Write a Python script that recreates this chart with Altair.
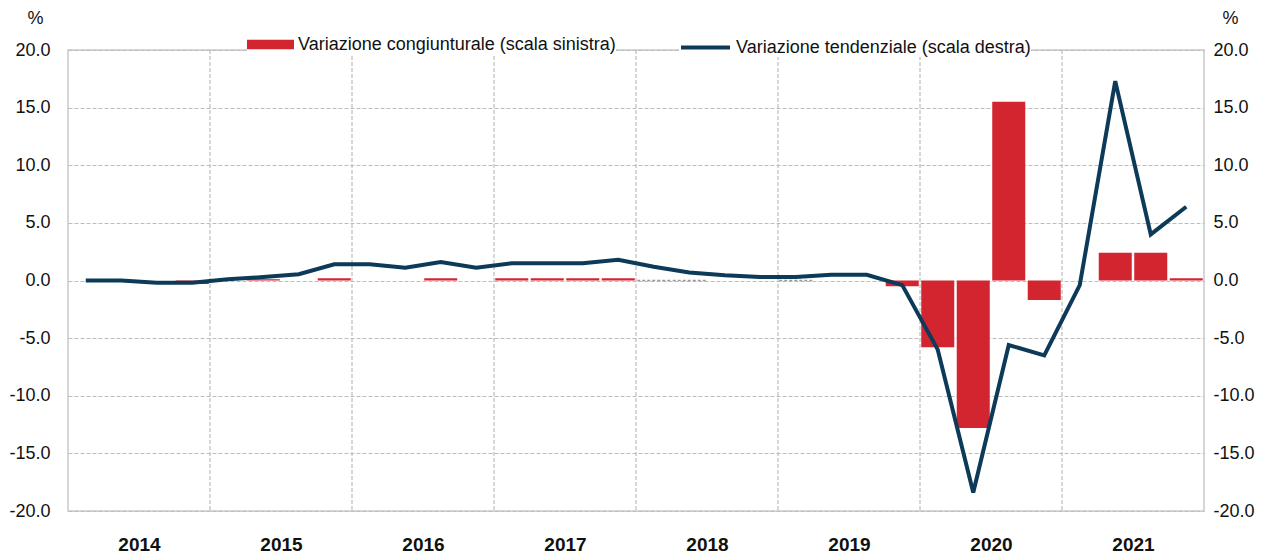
import altair as alt
import pandas as pd

# ---- data ----
years = [2014, 2015, 2016, 2017, 2018, 2019, 2020, 2021]
bar_label = "Variazione congiunturale (scala sinistra)"
line_label = "Variazione tendenziale (scala destra)"

# quarterly change (left scale); None = no visible bar
bar_values = [
    None, None, None, -0.3,
    None, 0.1, None, 0.2,
    None, None, 0.2, None,
    0.2, 0.2, 0.2, 0.2,
    0.0, 0.0, None, None,
    0.0, None, None, -0.5,
    -5.8, -12.8, 15.5, -1.7,
    None, 2.4, 2.4, 0.2,
]
# year-on-year change (right scale)
line_values = [
    0.0, 0.0, -0.2, -0.2,
    0.1, 0.3, 0.55, 1.4,
    1.4, 1.1, 1.6, 1.1,
    1.5, 1.5, 1.5, 1.8,
    1.2, 0.7, 0.45, 0.3,
    0.3, 0.5, 0.5, -0.4,
    -6.0, -18.4, -5.6, -6.5,
    -0.4, 17.3, 4.0, 6.4,
]
y_ticks = [-20, -15, -10, -5, 0, 5, 10, 15, 20]

RED = "#d32530"
NAVY = "#0c3a58"
GRID = "#bdbdbd"
FONT = "Liberation Sans Narrow, Liberation Sans, Arial, sans-serif"
FS = 18

W, H = 1136, 461

n = len(line_values)
df = pd.DataFrame({
    "q": list(range(n)),
    "v": bar_values,
    "t": line_values,
    "bar_name": [bar_label] * n,
    "line_name": [line_label] * n,
})
bounds = pd.DataFrame({"b": [4 * k for k in range(1, len(years))]})
year_pos = [4 * k + 2 for k in range(len(years))]

xscale = alt.Scale(domain=[0, 4 * len(years)], nice=False, zero=False)
yscale = alt.Scale(domain=[-20, 20], nice=False, zero=False)

label_expr = "replace(format(datum.value, '.1f'), '\u2212', '-')"

left_axis = alt.Axis(
    values=y_ticks, labelExpr=label_expr, grid=True, gridColor=GRID,
    gridDash=[4, 2], gridWidth=1.2, ticks=False, domain=False,
    labelFont=FONT, labelFontSize=FS, labelColor="#111", labelPadding=18,
    title="%", titleAngle=0, titleFont=FONT, titleFontSize=FS,
    titleFontWeight="normal", titleColor="#111", titleX=-33, titleY=-32,
    titleAlign="center", titleBaseline="middle",
)
right_axis = alt.Axis(
    orient="right", values=y_ticks, labelExpr=label_expr, grid=False,
    ticks=False, domain=False, labelFont=FONT, labelFontSize=FS,
    labelColor="#111", labelPadding=9,
    title="%", titleAngle=0, titleFont=FONT, titleFontSize=FS,
    titleFontWeight="normal", titleColor="#111", titleX=26, titleY=-32,
    titleAlign="center", titleBaseline="middle",
)
x_axis = alt.Axis(
    values=year_pos, labelExpr="2014 + floor(datum.value / 4)",
    grid=False, ticks=False, domain=False, labelFont=FONT,
    labelFontSize=19, labelFontWeight="bold", labelColor="#111",
    labelPadding=24, title=None,
)

base = alt.Chart(df)

vrules = alt.Chart(bounds).mark_rule(
    color=GRID, strokeDash=[4, 2], strokeWidth=1.2
).encode(x=alt.X("b:Q", scale=xscale, axis=x_axis))

bars = base.transform_filter("isValid(datum.v) && datum.v != 0").transform_calculate(
    x0="datum.q + 0.035", x1="datum.q + 0.965"
).mark_bar().encode(
    x=alt.X("x0:Q", scale=xscale, axis=x_axis),
    x2="x1:Q",
    y=alt.Y("v:Q", scale=yscale, axis=left_axis),
    y2=alt.datum(0),
    color=alt.Color(
        "bar_name:N",
        scale=alt.Scale(domain=[bar_label], range=[RED]),
        legend=alt.Legend(
            orient="none", legendX=179, legendY=-29, title=None,
            symbolType="M-1,-0.2H1V0.2H-1Z", symbolSize=2209,
            symbolStrokeWidth=0, symbolOpacity=1,
            labelFont=FONT, labelFontSize=FS, labelColor="#111",
            labelLimit=600, labelOffset=4, fillColor="white",
            padding=0,
        ),
    ),
)

zero_bars = base.transform_filter("isValid(datum.v) && datum.v == 0").transform_calculate(
    x0="datum.q + 0.035", x1="datum.q + 0.965"
).mark_rule(color="#9a9a9a", strokeDash=[3, 2], strokeWidth=1.5).encode(
    x=alt.X("x0:Q", scale=xscale, axis=x_axis),
    x2="x1:Q",
    y=alt.Y("v:Q", scale=yscale, axis=left_axis),
)

left = alt.layer(vrules, bars, zero_bars)

line = base.transform_calculate(xc="datum.q + 0.5").mark_line(
    strokeWidth=4, strokeJoin="miter"
).encode(
    x=alt.X("xc:Q", scale=xscale, axis=x_axis),
    y=alt.Y("t:Q", scale=yscale, axis=right_axis),
    stroke=alt.Stroke(
        "line_name:N",
        scale=alt.Scale(domain=[line_label], range=[NAVY]),
        legend=alt.Legend(
            orient="none", legendX=611, legendY=-29, title=None,
            symbolType="stroke", symbolSize=2401, symbolStrokeWidth=4,
            labelFont=FONT, labelFontSize=FS, labelColor="#111",
            labelLimit=600, labelOffset=4, fillColor="white", padding=0,
        ),
    ),
)

chart = alt.layer(left, line).resolve_scale(y="independent").properties(
    width=W, height=H,
    autosize=alt.AutoSizeParams(type="none"),
    padding={"left": 60, "top": 42, "right": 56, "bottom": 46},
).configure_view(stroke="#d6d6d6", strokeWidth=2)

chart.save("out.html", embed_options={"renderer": "svg", "actions": False})
